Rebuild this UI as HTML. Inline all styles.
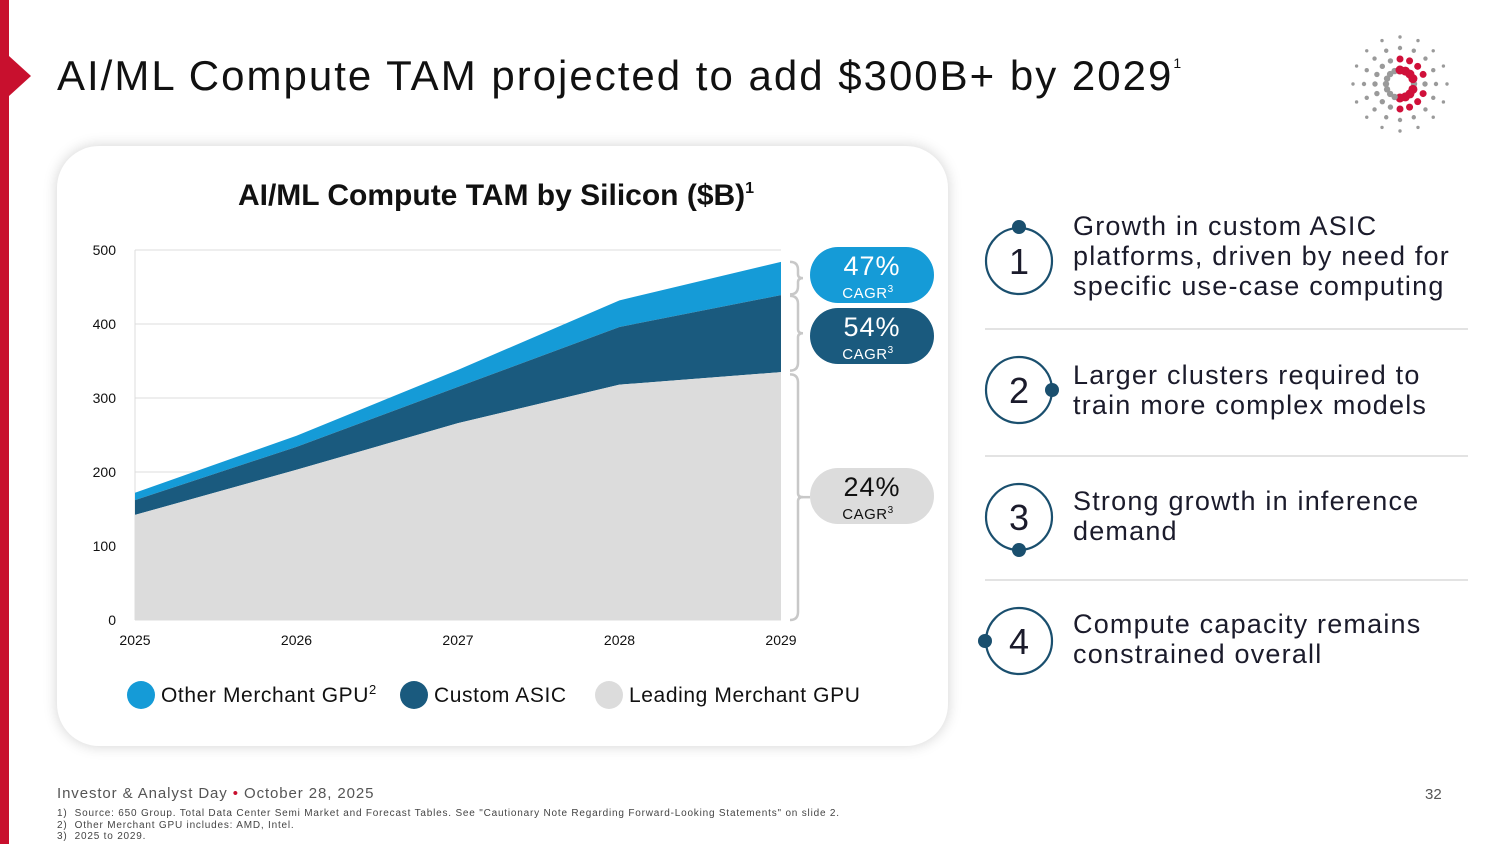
<!DOCTYPE html>
<html><head><meta charset="utf-8"><style>
body{margin:0;width:1500px;height:844px;background:#fff;font-family:"Liberation Sans",sans-serif;overflow:hidden;position:relative;color:#1b1b2b}
.abs{position:absolute}
.item{position:absolute;left:1073px;font-size:27px;line-height:30px;color:#1b1b2b;letter-spacing:1.2px}
.sep{position:absolute;left:985px;width:483px;height:2px;background:#e3e3e3}
</style></head><body>
<div class="abs" style="left:0;top:0;width:9px;height:844px;background:#c8102e"></div>
<div class="abs" style="left:9px;top:56px;width:0;height:0;border-top:20px solid transparent;border-bottom:20px solid transparent;border-left:22px solid #c8102e"></div>
<div class="abs" style="left:57px;top:52px;font-size:42px;color:#111;letter-spacing:2px">AI/ML Compute TAM projected to add $300B+ by 2029<sup style="font-size:14px;vertical-align:22px">1</sup></div>
<svg class="abs" style="left:1345px;top:32px" width="110" height="105" id="logo"></svg>

<div class="abs" style="left:57px;top:146px;width:891px;height:600px;border-radius:42px;background:#fff;box-shadow:0 0 14px rgba(0,0,0,0.18)"></div>
<svg class="abs" id="chart" style="left:0;top:0" width="1500" height="844"></svg>

<div>
<svg class="abs" style="left:975px;top:210px" width="100" height="480">
<g fill="none" stroke="#1a4f6e" stroke-width="2.2">
<circle cx="44" cy="51" r="33"/><circle cx="44" cy="180" r="33"/><circle cx="44" cy="307" r="33"/><circle cx="44" cy="431" r="33"/></g>
<g fill="#1a4f6e"><circle cx="44" cy="17" r="7"/><circle cx="77" cy="180" r="7"/><circle cx="44" cy="340" r="7"/><circle cx="10" cy="431" r="7"/></g>
<g font-size="36" fill="#1b1b2b" text-anchor="middle" font-family="Liberation Sans">
<text x="44" y="64">1</text><text x="44" y="193">2</text><text x="44" y="320">3</text><text x="44" y="444">4</text></g>
</svg>
<div class="item" style="top:211px">Growth in custom ASIC<br>platforms, driven by need for<br>specific use-case computing</div>
<div class="sep" style="top:328px"></div>
<div class="item" style="top:360px">Larger clusters required to<br>train more complex models</div>
<div class="sep" style="top:455px"></div>
<div class="item" style="top:486px">Strong growth in inference<br>demand</div>
<div class="sep" style="top:579px"></div>
<div class="item" style="top:609px">Compute capacity remains<br>constrained overall</div>
</div>

<div class="abs" style="left:57px;top:785px;font-size:15px;color:#555;letter-spacing:0.9px">Investor &amp; Analyst Day <span style="color:#c8102e">•</span> October 28, 2025</div>
<div class="abs" style="left:1425px;top:786px;font-size:15px;color:#555">32</div>
<div class="abs" style="left:57px;top:808px;font-size:10px;line-height:11.5px;color:#444;letter-spacing:0.8px">1)&nbsp; Source: 650 Group. Total Data Center Semi Market and Forecast Tables. See "Cautionary Note Regarding Forward-Looking Statements" on slide 2.<br>2)&nbsp; Other Merchant GPU includes: AMD, Intel.<br>3)&nbsp; 2025 to 2029.</div>

<script>
const years=['2025','2026','2027','2028','2029'];
const leading=[142,203,266,318,335];
const custom=[20,31,49,78,104];
const other=[10,15,23,36,45];
const yTicks=[0,100,200,300,400,500];
const cagrLabels=['47%','54%','24%'];

const NS='http://www.w3.org/2000/svg';
const svg=document.getElementById('chart');
function el(t,a,p){const e=document.createElementNS(NS,t);for(const k in a)e.setAttribute(k,a[k]);(p||svg).appendChild(e);return e;}
const X0=135,X1=781,Y0=620,Y1=250;
const x=i=>X0+(X1-X0)*i/(years.length-1);
const y=v=>Y0-(Y0-Y1)*v/500;

const t=el('text',{x:496,y:205,'text-anchor':'middle','font-size':30,'font-weight':'bold',fill:'#111'});t.textContent='AI/ML Compute TAM by Silicon ($B)';


const ts=el('tspan',{'font-size':16,dy:-12},t);ts.textContent='1';

yTicks.forEach(v=>{
 const g=el('line',{x1:X0,x2:X1,y1:y(v),y2:y(v),stroke:'#dcdcdc','stroke-width':1});
 
 
 const l=el('text',{x:116,y:y(v)+5,'text-anchor':'end','font-size':14,fill:'#111'});l.textContent=v;
 
 
});
el('line',{x1:X0,x2:X0,y1:Y1,y2:Y0,stroke:'#dcdcdc'});
const s1=leading.map((v,i)=>v+custom[i]),s2=s1.map((v,i)=>v+other[i]);
function area(top,bot,fill,name){
 let d='M'+top.map((v,i)=>x(i)+','+y(v)).join('L');
 for(let i=bot.length-1;i>=0;i--)d+='L'+x(i)+','+y(bot[i]);
 const p=el('path',{d:d+'Z',fill});
 
 
}
const zero=years.map(()=>0);
area(s2,s1,'#159bd7','area-other-merchant-gpu');
area(s1,leading,'#1a5a7e','area-custom-asic');
area(leading,zero,'#dcdcdc','area-leading-merchant-gpu');
years.forEach((yr,i)=>{
 const l=el('text',{x:x(i),y:645,'text-anchor':'middle','font-size':14,fill:'#111'});l.textContent=yr;
 
 
});
function brace(a,b){
 const ya=y(a),yb=y(b),m=(ya+yb)/2,bx=790,r=5;
 el('path',{d:`M${bx},${yb}q${r+3},0 ${r+3},${r+3}V${m-4}q0,4 ${r},4q-${r},0 -${r},4V${ya-r-3}q0,${r+3} -${r+3},${r+3}`,fill:'none',stroke:'#c8c8c8','stroke-width':2.5});
 return m;
}
const m1=brace(s1[4]+1,s2[4]),m2=brace(leading[4]+2,s1[4]-1),m3=brace(0,leading[4]-3);
const pills=[[247,'#159bd7','#fff'],[308,'#1a5a7e','#fff'],[468,'#dcdcdc','#111']];
pills.forEach((p,i)=>{
 const r=el('rect',{x:810,y:p[0],width:124,height:56,rx:28,fill:p[1]});
 
 
 const a=el('text',{x:872,y:p[0]+28,'text-anchor':'middle','font-size':27,fill:p[2],'letter-spacing':1});a.textContent=cagrLabels[i];
 const b=el('text',{x:868,y:p[0]+51,'text-anchor':'middle','font-size':15,fill:p[2],'letter-spacing':0.5});b.textContent='CAGR';
 const s=el('tspan',{'font-size':10,dy:-6},b);s.textContent='3';
});
el('line',{x1:798,x2:810,y1:m3,y2:m3,stroke:'#c8c8c8','stroke-width':2.5});
const leg=[[141,'#159bd7','Other Merchant GPU','2'],[414,'#1a5a7e','Custom ASIC',''],[609,'#dcdcdc','Leading Merchant GPU','']];
leg.forEach(l=>{
 const g=el('g',{});
 
 
 el('circle',{cx:l[0],cy:695,r:14,fill:l[1]},g);
 const tx=el('text',{x:l[0]+20,y:702,'font-size':21,fill:'#111','letter-spacing':0.6},g);tx.textContent=l[2];
 if(l[3]){const s=el('tspan',{'font-size':13,dy:-8},tx);s.textContent=l[3];}
});
const lg=document.getElementById('logo');
const cx=55,cy=52;
for(let k=0;k<16;k++){
 const ang=k*Math.PI/8;
 for(let j=0;j<4;j++){
  const rr=14+j*11;
  const px=cx+rr*Math.cos(ang),py=cy+rr*Math.sin(ang);
  const red=(j<2&&Math.cos(ang)>-0.3&&Math.abs(Math.sin(ang))>0.2);
  const c=document.createElementNS(NS,'circle');
  c.setAttribute('cx',px);c.setAttribute('cy',py);c.setAttribute('r',red?4.5-j:3.2-j*0.5);
  c.setAttribute('fill',red?'#d0103a':'#9a9a9a');
  lg.appendChild(c);
 }
}
</script>
</body></html>
